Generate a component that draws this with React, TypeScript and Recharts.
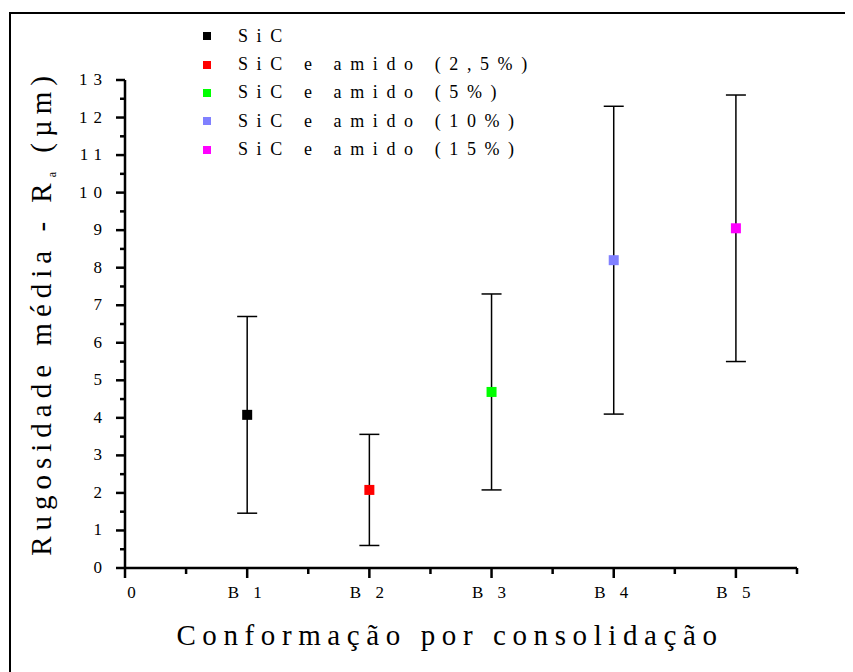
import React from "react";
import { ScatterChart, Scatter, XAxis, YAxis, ErrorBar } from "recharts";

// Ra per consolidation batch, with standard deviation
const categories = ["B 1", "B 2", "B 3", "B 4", "B 5"];
const seriesNames = [
  "SiC",
  "SiC e amido (2,5%)",
  "SiC e amido (5%)",
  "SiC e amido (10%)",
  "SiC e amido (15%)",
];
const seriesColors = ["#000000", "#ff0000", "#00ff00", "#8080ff", "#ff00ff"];
const roughness = [4.08, 2.08, 4.69, 8.2, 9.05];
const deviation = [2.62, 1.48, 2.61, 4.1, 3.55];

const xTicks = [0, 0.5, 1, 1.5, 2, 2.5, 3, 3.5, 4, 4.5, 5, 5.5];
const yTicks = Array.from({ length: 27 }, (_, i) => i / 2);

const FONT = "'Liberation Serif', 'Times New Roman', serif";

const XTick = (props: any) => {
  const { x, y, payload } = props;
  const v = payload.value as number;
  const major = Number.isInteger(v);
  const label = v === 0 ? "0" : categories[v - 1];
  return (
    <g>
      <line x1={x} x2={x} y1={y} y2={y + (major ? 10 : 6)} stroke="#000" strokeWidth={2.5} />
      {major && (
        <text x={x + (v === 0 ? 9 : 0)} y={y + 30} textAnchor="middle" fontFamily={FONT} fontSize={17} letterSpacing={5} fill="#000">
          {label}
        </text>
      )}
    </g>
  );
};

const YTick = (props: any) => {
  const { x, y, payload } = props;
  const v = payload.value as number;
  const major = Number.isInteger(v);
  return (
    <g>
      <line x1={x - (major ? 9 : 5)} x2={x} y1={y} y2={y} stroke="#000" strokeWidth={2.5} />
      {major && (
        <text x={x - 17} y={y + 5} textAnchor="end" fontFamily={FONT} fontSize={17} letterSpacing={6} fill="#000">
          {String(v)}
        </text>
      )}
    </g>
  );
};

const YTitle = (props: any) => {
  const { viewBox } = props;
  const cy = viewBox.y + viewBox.height / 2 - 11;
  const cx = 43;
  return (
    <text
      transform={`translate(${cx},${cy}) rotate(-90)`}
      textAnchor="middle"
      fontFamily={FONT}
      fontSize={29}
      letterSpacing={6}
      fill="#000"
    >
      Rugosidade média - R
      <tspan fontSize={12} dy={5}>a</tspan>
      <tspan dy={-5}> (µm)</tspan>
    </text>
  );
};

const XTitle = (props: any) => {
  const { viewBox } = props;
  const cx = viewBox.x + viewBox.width / 2 - 11;
  return (
    <text x={cx} y={637} textAnchor="middle" fontFamily={FONT} fontSize={29} letterSpacing={6.6} fill="#000">
      Conformação por consolidação
    </text>
  );
};

const Legend = () => (
  <div style={{ position: "absolute", left: 195, top: 14, fontFamily: FONT, fontSize: 18 }}>
    {seriesNames.map((name, i) => (
      <div key={name} style={{ display: "flex", alignItems: "center", height: 28.4 }}>
        <span style={{ width: 8, height: 8, background: seriesColors[i], display: "inline-block" }} />
        <span style={{ marginLeft: 27, letterSpacing: 8.6, whiteSpace: "pre" }}>{name}</span>
      </div>
    ))}
  </div>
);

export default function App() {
  return (
    <div style={{ position: "relative", width: 845, height: 664, overflow: "hidden", background: "#fff" }}>
      <div
        style={{
          position: "absolute",
          left: 1,
          top: 4,
          width: 835,
          height: 720,
          borderLeft: "2px solid #000",
          borderTop: "2px solid #000",
          borderRight: "2px solid #000",
        }}
      />
      <ScatterChart width={845} height={664} margin={{ top: 72, right: 56, left: 57, bottom: 64 }}>
        <XAxis
          type="number"
          dataKey="x"
          domain={[0, 5.5]}
          ticks={xTicks}
          interval={0}
          tickSize={0}
          tickMargin={0}
          height={40}
          axisLine={{ stroke: "#000", strokeWidth: 2.5 }}
          tick={<XTick />}
          label={<XTitle />}
        />
        <YAxis
          type="number"
          dataKey="y"
          domain={[0, 13]}
          ticks={yTicks}
          interval={0}
          tickSize={0}
          tickMargin={0}
          width={60}
          axisLine={{ stroke: "#000", strokeWidth: 2.5 }}
          tick={<YTick />}
          label={<YTitle />}
        />
        {seriesNames.map((name, i) => (
          <Scatter
            key={name}
            name={name}
            data={[{ x: i + 1, y: roughness[i], err: deviation[i] }]}
            fill={seriesColors[i]}
            isAnimationActive={false}
            shape={(p: any) => (
              <rect x={p.cx - 5} y={p.cy - 5} width={10} height={10} fill={seriesColors[i]} />
            )}
          >
            <ErrorBar dataKey="err" direction="y" width={10} stroke="#000" strokeWidth={1.5} isAnimationActive={false} />
          </Scatter>
        ))}
      </ScatterChart>
      <Legend />
    </div>
  );
}
